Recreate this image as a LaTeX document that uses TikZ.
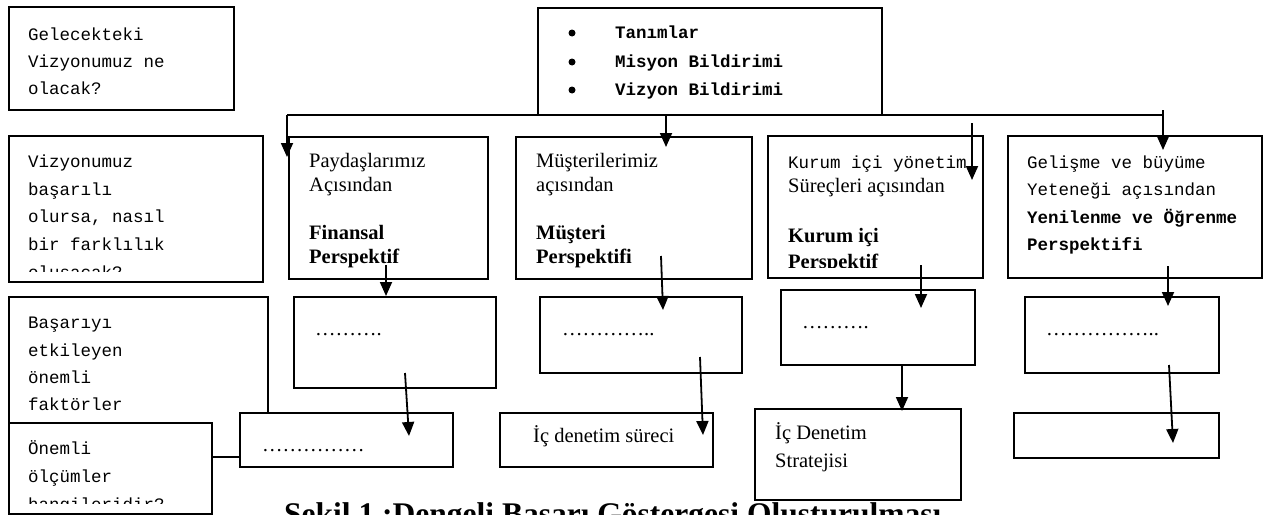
\documentclass[tikz,border=0pt]{standalone}
\usepackage{fontspec}
\setmainfont{Liberation Serif}
\setmonofont{Liberation Mono}
\usetikzlibrary{arrows.meta,calc}
\tikzset{
  box/.style={draw, fill=white, line width=1.8pt, inner sep=0pt, anchor=north west},
  mtxt/.style={anchor=base west, inner sep=0pt, font=\fontsize{17.5}{20}\selectfont\ttfamily},
  mbold/.style={anchor=base west, inner sep=0pt, font=\fontsize{17.5}{20}\selectfont\ttfamily\bfseries},
  stxt/.style={anchor=base west, inner sep=0pt, font=\fontsize{20.5}{24}\selectfont},
  sbold/.style={anchor=base west, inner sep=0pt, font=\fontsize{20.5}{24}\selectfont\bfseries},
  bul/.style={circle, fill=black, inner sep=0pt, minimum size=7pt},
  arr/.style={line width=1.8pt, -{Triangle[length=14pt,width=12pt]}},
  conn/.style={line width=1.8pt}
}
\begin{document}
\begin{tikzpicture}[x=1pt,y=-1pt]
\useasboundingbox (0,0) rectangle (1282,514);
\clip (0,0) rectangle (1282,514);

% left column
\node[box, minimum width=225, minimum height=103] (A) at (8,6) {};
\node[mtxt] (A1) at (28,40) {Gelecekteki};
\node[mtxt] (A2) at (28,67) {Vizyonumuz ne};
\node[mtxt] (A3) at (28,94) {olacak?};

\node[box, minimum width=254, minimum height=146] (B) at (8,135) {};
\begin{scope}
\clip (10,137) rectangle (260,271);
\node[mtxt] (B1) at (28,167) {Vizyonumuz};
\node[mtxt] (B2) at (28,195) {başarılı};
\node[mtxt] (B3) at (28,222) {olursa, nasıl};
\node[mtxt] (B4) at (28,250) {bir farklılık};
\node[mtxt] (B5) at (28,278) {oluşacak?};
\end{scope}

\node[box, minimum width=259, minimum height=160] (C) at (8,296) {};
\node[mtxt] (C1) at (28,328) {Başarıyı};
\node[mtxt] (C2) at (28,356) {etkileyen};
\node[mtxt] (C3) at (28,383) {önemli};
\node[mtxt] (C4) at (28,410) {faktörler};

% top box
\node[box, minimum width=344, minimum height=107] (T) at (537,7) {};
\node[bul] (Tb1) at (572,33) {};
\node[bul] (Tb2) at (572,62) {};
\node[bul] (Tb3) at (572,90) {};
\node[mbold] (T1) at (615,38) {Tanımlar};
\node[mbold] (T2) at (615,67) {Misyon Bildirimi};
\node[mbold] (T3) at (615,95) {Vizyon Bildirimi};

% perspective boxes
\node[box, minimum width=199, minimum height=142] (P1) at (288,136) {};
\node[stxt] (P1a) at (309,167) {Paydaşlarımız};
\node[stxt] (P1b) at (309,191) {Açısından};
\node[sbold] (P1c) at (309,239) {Finansal};
\node[sbold] (P1d) at (309,263) {Perspektif};

\node[box, minimum width=236, minimum height=142] (P2) at (515,136) {};
\node[stxt] (P2a) at (536,167) {Müşterilerimiz};
\node[stxt] (P2b) at (536,191) {açısından};
\node[sbold] (P2c) at (536,239) {Müşteri};
\node[sbold] (P2d) at (536,263) {Perspektifi};

\node[box, minimum width=215, minimum height=142] (P3) at (767,135) {};
\begin{scope}
\clip (769,137) rectangle (980,267);
\node[mtxt] (P3a) at (788,168) {Kurum içi yönetim};
\node[stxt] (P3b) at (788,192) {Süreçleri açısından};
\node[sbold] (P3c) at (788,242) {Kurum içi};
\node[sbold] (P3d) at (788,268) {Perspektif};
\end{scope}

\node[box, minimum width=254, minimum height=142] (P4) at (1007,135) {};
\node[mtxt] (P4a) at (1027,168) {Gelişme ve büyüme};
\node[mtxt] (P4b) at (1027,195) {Yeteneği açısından};
\node[mbold] (P4c) at (1027,223) {Yenilenme ve Öğrenme};
\node[mbold] (P4d) at (1027,250) {Perspektifi};

% third row
\node[box, minimum width=202, minimum height=91] (Q1) at (293,296) {};
\node[stxt] (Q1t) at (315,335) {……….};
\node[box, minimum width=202, minimum height=76] (Q2) at (539,296) {};
\node[stxt] (Q2t) at (562,335) {…………..};
\node[box, minimum width=194, minimum height=75] (Q3) at (780,289) {};
\node[stxt] (Q3t) at (802,328) {……….};
\node[box, minimum width=194, minimum height=76] (Q4) at (1024,296) {};
\node[stxt] (Q4t) at (1046,335) {……………..};

% fourth row
\node[box, minimum width=213, minimum height=54] (E1) at (239,412) {};
\node[stxt] (E1t) at (262,451) {……………};
\node[box, minimum width=213, minimum height=54] (E2) at (499,412) {};
\node[stxt] (E2t) at (533,442) {İç denetim süreci};
\node[box, minimum width=206, minimum height=91] (E3) at (754,408) {};
\node[stxt] (E3a) at (775,439) {İç Denetim};
\node[stxt] (E3b) at (775,467) {Stratejisi};
\node[box, minimum width=205, minimum height=45] (E4) at (1013,412) {};

\node[box, minimum width=203, minimum height=91] (D) at (8,422) {};
\begin{scope}
\clip (10,424) rectangle (209,503);
\node[mtxt] (D1) at (28,454) {Önemli};
\node[mtxt] (D2) at (28,482) {ölçümler};
\node[mtxt] (D3) at (28,510) {hangileridir?};
\end{scope}

% caption
\node[anchor=base west, inner sep=0pt, font=\fontsize{31.5}{36}\selectfont\bfseries] (cap) at (284,524) {Şekil 1 :Dengeli Başarı Göstergesi Oluşturulması};

% connectors
\coordinate (hl) at (287,115);
\coordinate (hr) at (1163,115);
\draw[conn] (hl) -- (hr);

\coordinate (a1e) at (287,157);
\draw[arr] (hl) -- (a1e);
\coordinate (a2s) at (666,115);
\coordinate (a2e) at (666,147);
\draw[arr] (a2s) -- (a2e);
\coordinate (a3s) at (972,123);
\coordinate (a3e) at (972,180);
\draw[arr] (a3s) -- (a3e);
\coordinate (a4s) at (1163,110);
\coordinate (a4e) at (1163,150);
\draw[arr] (a4s) -- (a4e);

\coordinate (b1s) at (386,265);
\coordinate (b1e) at (386,296);
\draw[arr] (b1s) -- (b1e);
\coordinate (b2s) at (661,256);
\coordinate (b2e) at (663,310);
\draw[arr] (b2s) -- (b2e);
\coordinate (b3s) at (921,265);
\coordinate (b3e) at (921,308);
\draw[arr] (b3s) -- (b3e);
\coordinate (b4s) at (1168,266);
\coordinate (b4e) at (1168,306);
\draw[arr] (b4s) -- (b4e);

\coordinate (c1s) at (405,373);
\coordinate (c1e) at (409,436);
\draw[arr] (c1s) -- (c1e);
\coordinate (c2s) at (700,357);
\coordinate (c2e) at (703,435);
\draw[arr] (c2s) -- (c2e);
\coordinate (c3e) at (902,411);
\draw[arr] (Q3.south -| c3e) -- (c3e);
\coordinate (c4s) at (1169,365);
\coordinate (c4e) at (1173,443);
\draw[arr] (c4s) -- (c4e);
\end{tikzpicture}
\end{document}
